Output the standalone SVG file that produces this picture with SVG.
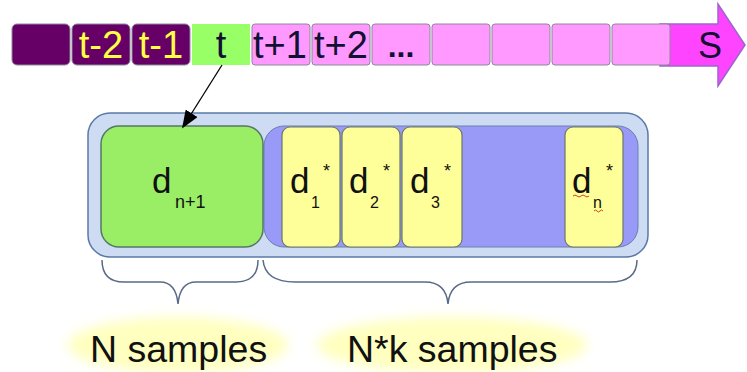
<svg xmlns="http://www.w3.org/2000/svg" width="747" height="372" viewBox="0 0 747 372">
<style>
text{font-family:"Liberation Sans",Arial,sans-serif}
.cell{stroke:#8a8a9a;stroke-width:1}
.pk{fill:#ff99ff}
.pu{fill:#660066}
.top{font-size:38px;text-anchor:middle}
.yt{fill:#ffff44}
.dk{fill:#111133}
.ycell{fill:#ffff99;stroke:#6a7a66;stroke-width:1.2}
.d{font-size:35px;fill:#111111}
.sub{font-size:16px;fill:#111111}
.ast{font-size:18px;fill:#111111}
.brace{fill:none;stroke:#5a6a88;stroke-width:1.5}
.lbl{font-size:37.5px;fill:#111111}
.sq{fill:none;stroke:#d04020;stroke-width:1}
</style>
<defs>
<marker id="ah" viewBox="0 0 10 10" refX="9" refY="5" markerWidth="18" markerHeight="14" markerUnits="userSpaceOnUse" orient="auto" preserveAspectRatio="none">
<path d="M0,0 L10,5 L0,10 Z" fill="#000"/>
</marker>
<filter id="blur" x="-20%" y="-40%" width="140%" height="180%"><feGaussianBlur stdDeviation="6"/></filter>
</defs>
<rect width="747" height="372" fill="#ffffff"/>

<g id="timeline">
<path d="M660,24 L718,24 L718,4 L745,45 L718,86 L718,66 L660,66 Z" fill="#ff44ff" stroke="#9a66cc" stroke-width="1.5"/>
<rect class="cell pu" x="12" y="24" width="58" height="41" rx="5"/>
<rect class="cell pu" x="72" y="24" width="58" height="41" rx="5"/>
<rect class="cell pu" x="132" y="24" width="58" height="41" rx="5"/>
<rect x="192" y="24" width="58" height="41" fill="#99ff66"/>
<rect class="cell pk" x="252" y="24" width="58" height="41" rx="3"/>
<rect class="cell pk" x="312" y="24" width="58" height="41" rx="3"/>
<rect class="cell pk" x="372" y="24" width="58" height="41" rx="3"/>
<rect class="cell pk" x="432" y="24" width="58" height="41" rx="3"/>
<rect class="cell pk" x="492" y="24" width="58" height="41" rx="3"/>
<rect class="cell pk" x="552" y="24" width="58" height="41" rx="3"/>
<rect class="cell pk" x="612" y="24" width="58" height="41" rx="3"/>
<text class="top yt" x="101" y="58">t-2</text>
<text class="top yt" x="161" y="58">t-1</text>
<text class="top dk" x="221" y="58">t</text>
<text class="top dk" x="280" y="58">t+1</text>
<text class="top dk" x="341" y="58">t+2</text>
<text class="top dk" x="401" y="57" style="font-size:32px;font-weight:bold">...</text>
<text class="top dk" x="710" y="58" style="font-size:36px">S</text>
</g>

<g id="container">
<rect x="88" y="113" width="560" height="144" rx="22" fill="#cddcf2" stroke="#5a7aa6" stroke-width="1.5"/>
<rect x="264" y="126" width="374" height="121" rx="20" fill="#9999f8" stroke="#6a80b0" stroke-width="1"/>
</g>

<g id="dn1">
<rect x="101" y="126" width="162" height="121" rx="18" fill="#99ee66" stroke="#557766" stroke-width="1.5"/>
<text class="d" x="152" y="193">d</text>
<text class="sub" x="175" y="208" style="font-size:18px">n+1</text>
</g>

<g id="d1">
<rect class="ycell" x="282" y="127" width="58" height="120" rx="8"/>
<text class="d" x="290" y="193">d</text>
<text class="sub" x="311" y="208">1</text>
<text class="ast" x="323" y="177">*</text>
</g>
<g id="d2">
<rect class="ycell" x="342" y="127" width="58" height="120" rx="8"/>
<text class="d" x="349" y="193">d</text>
<text class="sub" x="370" y="208">2</text>
<text class="ast" x="383" y="177">*</text>
</g>
<g id="d3">
<rect class="ycell" x="402" y="127" width="60" height="120" rx="8"/>
<text class="d" x="410" y="193">d</text>
<text class="sub" x="431" y="208">3</text>
<text class="ast" x="444" y="177">*</text>
</g>
<g id="dn">
<rect class="ycell" x="565" y="127" width="58" height="120" rx="8"/>
<text class="d" x="572" y="193">d</text>
<text class="sub" x="593" y="208">n</text>
<text class="ast" x="606" y="177">*</text>
<path class="sq" d="M573,196 q2,-2 4,0 t4,0 t4,0 t4,0"/>
<path class="sq" d="M594,211 q1.5,-2 3,0 t3,0 t3,0"/>
</g>

<g id="connectors">
<line x1="222" y1="65" x2="183" y2="127" stroke="#000" stroke-width="1.3" marker-end="url(#ah)"/>
<path class="brace" d="M102,260 Q102,282 124,282 L160,282 Q176,282 178,304 Q180,282 196,282 L236,282 Q258,282 258,260"/>
<path class="brace" d="M263,260 Q265,282 295,282 L425,282 Q446,282 448,304 Q450,282 471,282 L610,282 Q637,282 637,260"/>
</g>

<g id="lbl-n">
<ellipse cx="178" cy="345" rx="110" ry="28" fill="#ffffc0" filter="url(#blur)"/>
<text class="lbl" x="90" y="362">N samples</text>
</g>
<g id="lbl-nk">
<ellipse cx="452" cy="345" rx="135" ry="28" fill="#ffffc0" filter="url(#blur)"/>
<text class="lbl" x="347" y="362">N*k samples</text>
</g>
</svg>
